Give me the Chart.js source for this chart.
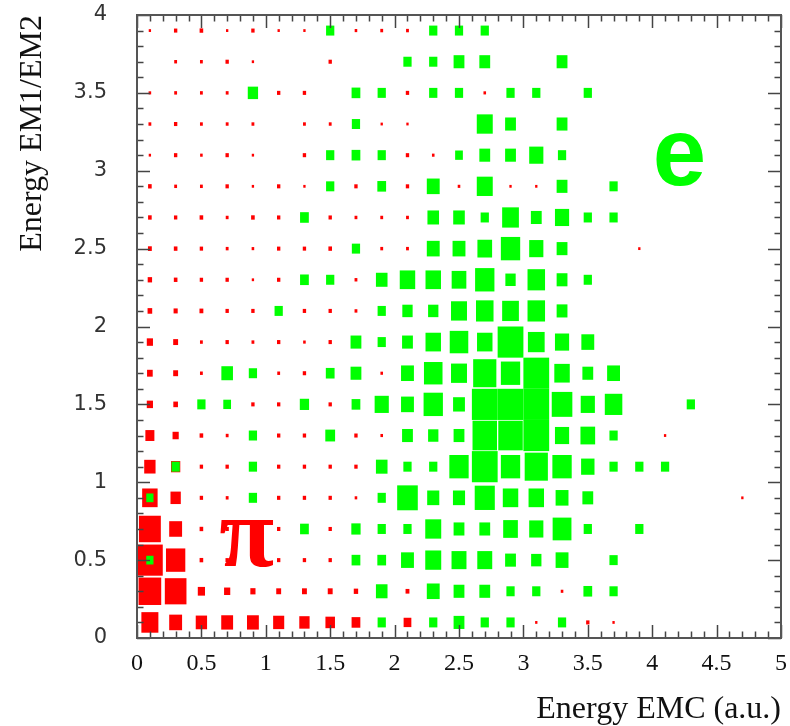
<!DOCTYPE html>
<html>
<head>
<meta charset="utf-8">
<script src="https://cdn.jsdelivr.net/npm/chart.js@4.4.1/dist/chart.umd.min.js"></script>
<style>
  html, body { margin: 0; padding: 0; background: #fff; }
  canvas { display: block; }
</style>
</head>
<body>
<canvas id="chart" width="790" height="726"></canvas>
<script>
// bin centres, bin width 0.2
var binWidth = 0.2;
var xBins = [0.1, 0.3, 0.5, 0.7, 0.9, 1.1, 1.3, 1.5, 1.7, 1.9, 2.1, 2.3, 2.5,
             2.7, 2.9, 3.1, 3.3, 3.5, 3.7, 3.9, 4.1, 4.3, 4.5, 4.7, 4.9];
// rows listed top to bottom, as in the picture
var yBins = [3.9, 3.7, 3.5, 3.3, 3.1, 2.9, 2.7, 2.5, 2.3, 2.1,
             1.9, 1.7, 1.5, 1.3, 1.1, 0.9, 0.7, 0.5, 0.3, 0.1];
var maxCount = 100;

var xTickLabels = ['0', '0.5', '1', '1.5', '2', '2.5', '3', '3.5', '4', '4.5', '5'];
var yTickLabels = ['0', '0.5', '1', '1.5', '2', '2.5', '3', '3.5', '4'];

// pions (red)
var pionCounts = [
  [9,13,14,9,13,9,9,0,10,11,11,0,0,0,0,0,0,0,0,0,0,0,0,0,0],
  [0,11,11,13,9,0,0,13,0,0,0,0,0,0,0,0,0,0,0,0,0,0,0,0,0],
  [10,11,11,11,0,13,13,0,0,0,13,0,0,10,0,0,0,0,0,0,0,0,0,0,0],
  [11,13,11,11,11,0,11,11,0,9,9,0,0,0,0,0,0,0,0,0,0,0,0,0,0],
  [9,13,10,13,9,0,13,0,0,0,13,10,0,0,0,0,0,0,0,0,0,0,0,0,0],
  [14,11,11,13,9,13,9,0,13,0,13,0,10,0,9,9,0,0,0,0,0,0,0,0,0],
  [14,13,14,11,14,13,0,13,11,11,11,0,0,0,0,0,0,0,0,0,0,0,0,0,0],
  [15,14,13,11,10,13,13,14,0,11,11,0,0,0,0,0,0,0,0,9,0,0,0,0,0],
  [17,14,13,13,9,13,0,0,11,0,0,0,0,0,0,0,0,0,0,0,0,0,0,0,0],
  [18,16,15,13,13,0,13,13,11,0,0,0,0,0,0,0,0,0,0,0,0,0,0,0,0],
  [24,19,11,13,11,13,10,13,0,0,0,0,0,0,0,0,0,0,0,0,0,0,0,0,0],
  [22,19,11,0,0,11,13,0,0,10,0,0,0,0,0,0,0,0,0,0,0,0,0,0,0],
  [24,18,0,0,13,13,0,13,0,0,0,0,0,0,0,0,0,0,0,0,0,0,0,0,0],
  [35,24,14,11,0,13,13,0,13,10,0,0,0,0,0,0,0,0,0,0,9,0,0,0,0],
  [44,36,13,13,0,13,13,13,13,0,0,0,0,0,0,0,0,0,0,0,0,0,0,0,0],
  [60,40,13,11,0,13,13,13,10,0,0,0,0,0,0,0,0,0,0,0,0,0,0,9,0],
  [85,50,14,13,13,13,0,13,0,0,0,0,0,0,0,0,0,0,0,0,0,0,0,0,0],
  [100,75,14,13,13,13,13,13,0,0,0,0,0,0,0,0,0,0,0,0,0,0,0,0,0],
  [88,84,28,24,20,19,19,19,17,0,15,0,0,0,0,0,10,0,0,0,0,0,0,0,0],
  [66,50,44,46,46,43,40,37,34,0,30,0,0,0,0,9,0,13,9,0,0,0,0,0,0]
];

// electrons (green)
var electronCounts = [
  [0,0,0,0,0,0,0,32,0,0,0,32,32,32,0,0,0,0,0,0,0,0,0,0,0],
  [0,0,0,0,0,0,0,0,0,0,32,32,42,42,0,0,42,0,0,0,0,0,0,0,0],
  [0,0,0,0,40,0,0,0,34,32,0,32,32,0,32,32,0,32,0,0,0,0,0,0,0],
  [0,0,0,0,0,0,0,0,32,0,0,0,0,62,42,0,42,0,0,0,0,0,0,0,0],
  [0,0,0,0,0,0,0,32,34,32,0,0,30,42,42,55,32,0,0,0,0,0,0,0,0],
  [0,0,0,0,0,0,0,32,0,34,0,50,0,62,0,0,42,0,32,0,0,0,0,0,0],
  [0,0,0,0,0,0,34,0,0,0,0,45,45,32,65,42,55,32,32,0,0,0,0,0,0],
  [0,0,0,0,0,0,0,0,32,0,0,50,50,57,75,55,42,0,0,0,0,0,0,0,0],
  [0,0,0,0,0,0,34,32,0,45,60,60,57,75,40,68,42,32,0,0,0,0,0,0,0],
  [0,0,0,0,0,32,0,0,0,32,40,40,62,68,65,68,42,0,0,0,0,0,0,0,0],
  [0,0,0,0,0,0,0,0,42,32,42,60,72,60,100,65,55,50,0,0,0,0,0,0,0],
  [0,0,0,45,32,0,0,34,42,0,50,72,62,90,75,100,60,42,50,0,0,0,0,0,0],
  [0,0,32,30,0,0,36,0,34,55,50,75,46,100,100,100,80,55,68,0,0,32,0,0,0],
  [0,0,0,0,32,0,0,38,0,0,42,40,42,95,95,100,55,57,32,0,0,0,0,0,0],
  [0,32,0,0,32,0,0,0,0,45,32,32,75,100,75,90,75,52,32,32,32,0,0,0,0],
  [28,0,0,0,32,0,0,0,0,32,80,47,47,78,60,60,50,42,0,0,0,0,0,0,0],
  [0,0,0,0,0,0,34,0,36,32,32,62,42,42,57,55,73,32,0,32,0,0,0,0,0],
  [28,0,0,0,0,0,0,0,34,34,50,62,58,58,42,40,50,0,32,0,0,0,0,0,0],
  [0,0,0,0,0,0,0,0,0,45,0,50,42,42,32,32,0,34,32,0,0,0,0,0,0],
  [0,0,0,0,0,0,0,0,0,32,0,32,42,32,32,0,32,0,0,0,0,0,0,0,0]
];

function toPoints(counts) {
  var pts = [];
  counts.forEach(function(row, j) {
    row.forEach(function(v, i) {
      if (v > 0) pts.push({ x: xBins[i], y: yBins[j], v: v });
    });
  });
  return pts;
}

// draws each cell as a box centred on the point, sized by its count
var boxPlugin = {
  id: 'boxes',
  afterDatasetDraw: function(chart, args) {
    var ds = chart.data.datasets[args.index];
    var xs = chart.scales.x, ys = chart.scales.y;
    var bw = Math.abs(xs.getPixelForValue(binWidth) - xs.getPixelForValue(0));
    var bh = Math.abs(ys.getPixelForValue(binWidth) - ys.getPixelForValue(0));
    var ctx = chart.ctx;
    ctx.save();
    ctx.fillStyle = ds.boxColor;
    args.meta.data.forEach(function(pt, i) {
      var f = ds.data[i].v / maxCount;
      var w = Math.max(bw * f, 2), h = Math.max(bh * f, 2);
      ctx.fillRect(pt.x - w / 2, pt.y - h / 2, w, h);
    });
    ctx.restore();
  }
};

// frame with inward ticks on all four sides, plus the two labels
var framePlugin = {
  id: 'frame',
  afterDraw: function(chart) {
    var ctx = chart.ctx, a = chart.chartArea;
    var xs = chart.scales.x, ys = chart.scales.y;
    ctx.save();
    ctx.strokeStyle = '#444';
    ctx.lineWidth = 1.5;
    ctx.beginPath();
    var i, v, p, len;
    for (i = 0; i <= 50; i++) {
      v = i / 10;
      p = Math.round(xs.getPixelForValue(v)) + 0.5;
      len = (i % 5 === 0) ? 13 : 6.5;
      ctx.moveTo(p, a.bottom); ctx.lineTo(p, a.bottom - len);
      ctx.moveTo(p, a.top); ctx.lineTo(p, a.top + len);
    }
    for (i = 0; i <= 40; i++) {
      v = i / 10;
      p = Math.round(ys.getPixelForValue(v)) + 0.5;
      len = (i % 5 === 0) ? 13 : 6.5;
      ctx.moveTo(a.left, p); ctx.lineTo(a.left + len, p);
      ctx.moveTo(a.right, p); ctx.lineTo(a.right - len, p);
    }
    ctx.stroke();
    ctx.lineWidth = 2;
    ctx.strokeStyle = '#555';
    ctx.strokeRect(a.left, a.top, a.right - a.left, a.bottom - a.top);

    ctx.textAlign = 'center';
    ctx.textBaseline = 'alphabetic';
    ctx.fillStyle = '#ff0000';
    ctx.font = 'bold 100px "Liberation Serif"';
    ctx.fillText('\u03c0', xs.getPixelForValue(0.852), ys.getPixelForValue(0.462));
    ctx.fillStyle = '#00ff00';
    ctx.font = 'bold 96px "Liberation Sans"';
    ctx.fillText('e', xs.getPixelForValue(4.212), ys.getPixelForValue(2.91));
    ctx.restore();
  }
};

var chart = new Chart('chart', {
  type: 'scatter',
  data: {
    datasets: [
      { label: 'e', data: toPoints(electronCounts), boxColor: '#00ff00', order: 0,
        pointRadius: 0, pointHoverRadius: 0 },
      { label: 'pi', data: toPoints(pionCounts), boxColor: '#ff0000', order: 1,
        pointRadius: 0, pointHoverRadius: 0 }
    ]
  },
  options: {
    responsive: false,
    animation: false,
    events: [],
    layout: { padding: { left: 0, top: 15, right: 9, bottom: 0 } },
    plugins: { legend: { display: false }, tooltip: { enabled: false } },
    scales: {
      x: {
        type: 'linear', min: 0, max: 5,
        grid: { display: false, drawTicks: false },
        border: { display: false },
        ticks: {
          stepSize: 0.5, padding: 11, color: '#111',
          font: { family: '"Liberation Serif"', size: 24 },
          callback: function(value) { return xTickLabels[Math.round(value / 0.5)]; }
        },
        title: {
          display: true, text: 'Energy EMC (a.u.)', align: 'end', color: '#111',
          font: { family: '"Liberation Serif"', size: 32, lineHeight: 1 },
          padding: { top: 0, bottom: 0 }
        },
        afterFit: function(scale) {
          scale.height = 88;
          scale.paddingLeft = 0;
          scale.paddingRight = 0;
        }
      },
      y: {
        type: 'linear', min: 0, max: 4,
        grid: { display: false, drawTicks: false },
        border: { display: false },
        ticks: {
          stepSize: 0.5, padding: 30, color: '#333', crossAlign: 'near',
          font: { family: '"DejaVu Sans"', size: 21 },
          callback: function(value) { return yTickLabels[Math.round(value / 0.5)]; }
        },
        title: {
          display: true, text: 'Energy EM1/EM2', align: 'end', color: '#111',
          font: { family: '"Liberation Serif"', size: 32, lineHeight: 1 },
          padding: { top: 17, bottom: 0 }
        },
        afterFit: function(scale) {
          scale.width = 137;
          scale.paddingTop = 0;
          scale.paddingBottom = 0;
        }
      }
    }
  },
  plugins: [boxPlugin, framePlugin]
});
</script>
</body>
</html>
